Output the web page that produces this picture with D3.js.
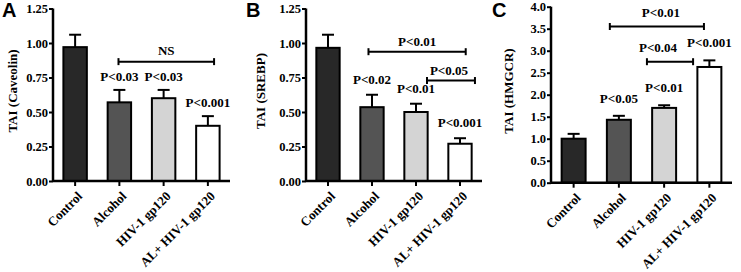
<!DOCTYPE html>
<html>
<head>
<meta charset="utf-8">
<script src="https://cdn.jsdelivr.net/npm/d3@7"></script>
<style>
  html, body { margin: 0; padding: 0; background: #fff; }
  svg { display: block; }
  text { font-family: "Liberation Serif", "Times New Roman", serif; font-weight: bold; fill: #000; }
  .panel-letter { font-family: "Liberation Sans", Arial, sans-serif; font-size: 20px; }
</style>
</head>
<body>
<div id="dataViz"></div>
<script>
const width = 741;
const height = 272;
const fontSize = "13px";
const tickFont = "12.5px";

// Data
const categories = ["Control", "Alcohol", "HIV-1 gp120", "AL+ HIV-1 gp120"];
const barColours = ["#282828", "#545454", "#d4d4d4", "#ffffff"];

const caveolinMeans = [0.97, 0.57, 0.60, 0.40];
const caveolinErrors = [0.09, 0.09, 0.06, 0.07];
const caveolinP = ["", "P<0.03", "P<0.03", "P<0.001"];

const srebpMeans = [0.965, 0.535, 0.50, 0.27];
const srebpErrors = [0.095, 0.09, 0.06, 0.04];
const srebpP = ["", "P<0.02", "P<0.01", "P<0.001"];

const hmgcrMeans = [1.0, 1.43, 1.70, 2.63];
const hmgcrErrors = [0.11, 0.09, 0.06, 0.15];
const hmgcrP = ["", "P<0.05", "P<0.01", "P<0.001"];

const ticks125 = [0, 0.25, 0.5, 0.75, 1.0, 1.25];
const ticks4 = [0, 0.5, 1.0, 1.5, 2.0, 2.5, 3.0, 3.5, 4.0];

// brackets: from / to in category index units, y in data units
const caveolinBrackets = [{ from: 0.98, to: 3.14, y: 0.865, label: "NS", dx: 0 }];
const srebpBrackets = [
  { from: 0.92, to: 3.13, y: 0.937, label: "P<0.01", dx: 0 },
  { from: 2.25, to: 3.34, y: 0.728, label: "P<0.05", dx: -2 }
];
const hmgcrBrackets = [
  { from: 0.80, to: 2.88, y: 3.55, label: "P<0.01", dx: 4 },
  { from: 1.62, to: 2.64, y: 2.75, label: "P<0.04", dx: -12 }
];

const svg = d3.select("#dataViz").append("svg")
  .attr("width", width)
  .attr("height", height);

const panels = [
  {
    letter: "A", letterX: 2, title: "TAI (Caveolin)", titleX: 17,
    left: 53, right: 230, bottom: 181, top: 8.5, max: 1.25,
    ticks: ticks125, fmt: ".2f",
    means: caveolinMeans, errors: caveolinErrors, pvals: caveolinP, pGap: 9,
    brackets: caveolinBrackets, bracketGap: 7
  },
  {
    letter: "B", letterX: 246, title: "TAI (SREBP)", titleX: 265,
    left: 306, right: 482, bottom: 181, top: 8.5, max: 1.25,
    ticks: ticks125, fmt: ".2f",
    means: srebpMeans, errors: srebpErrors, pvals: srebpP, pGap: 11,
    brackets: srebpBrackets, bracketGap: 6
  },
  {
    letter: "C", letterX: 492, title: "TAI (HMGCR)", titleX: 513,
    left: 551, right: 732, bottom: 182.7, top: 6.7, max: 4.0,
    ticks: ticks4, fmt: ".1f",
    means: hmgcrMeans, errors: hmgcrErrors, pvals: hmgcrP, pGap: 13,
    brackets: hmgcrBrackets, bracketGap: 10
  }
];

panels.forEach(p => {
  const g = svg.append("g");

  const xScale = d3.scaleBand()
    .domain(categories)
    .range([p.left, p.right])
    .paddingInner(0.47)
    .paddingOuter(0.235);

  const yScale = d3.scaleLinear()
    .domain([0, p.max])
    .range([p.bottom, p.top]);

  const centre = d => xScale(d) + xScale.bandwidth() / 2;
  const idxScale = d3.scaleLinear()
    .domain([0, categories.length - 1])
    .range([centre(categories[0]), centre(categories[categories.length - 1])]);

  const rows = categories.map((c, i) => ({
    cat: c, mean: p.means[i], err: p.errors[i], p: p.pvals[i], colour: barColours[i]
  }));

  // Error bars (drawn first, bar covers the lower half)
  const eb = g.selectAll(".err").data(rows).enter().append("g").attr("class", "err");
  eb.append("line")
    .attr("x1", d => centre(d.cat)).attr("x2", d => centre(d.cat))
    .attr("y1", d => yScale(d.mean)).attr("y2", d => yScale(d.mean + d.err))
    .attr("stroke", "#000").attr("stroke-width", 2);
  eb.append("line")
    .attr("x1", d => centre(d.cat) - 6).attr("x2", d => centre(d.cat) + 6)
    .attr("y1", d => yScale(d.mean + d.err)).attr("y2", d => yScale(d.mean + d.err))
    .attr("stroke", "#000").attr("stroke-width", 2);

  // Bars
  g.selectAll(".bar").data(rows).enter().append("rect")
    .attr("class", "bar")
    .attr("x", d => xScale(d.cat))
    .attr("y", d => yScale(d.mean))
    .attr("width", xScale.bandwidth())
    .attr("height", d => yScale(0) - yScale(d.mean))
    .attr("fill", d => d.colour)
    .attr("stroke", "#000")
    .attr("stroke-width", 2);

  // P values above bars
  g.selectAll(".pval").data(rows.filter(d => d.p)).enter().append("text")
    .attr("class", "pval")
    .attr("x", d => centre(d.cat))
    .attr("y", d => yScale(d.mean + d.err) - p.pGap)
    .attr("text-anchor", "middle")
    .style("font-size", fontSize)
    .text(d => d.p);

  // Brackets
  const br = g.selectAll(".bracket").data(p.brackets).enter().append("g").attr("class", "bracket");
  br.append("line")
    .attr("x1", d => idxScale(d.from)).attr("x2", d => idxScale(d.to))
    .attr("y1", d => yScale(d.y)).attr("y2", d => yScale(d.y))
    .attr("stroke", "#000").attr("stroke-width", 2);
  ["from", "to"].forEach(k => {
    br.append("line")
      .attr("x1", d => idxScale(d[k])).attr("x2", d => idxScale(d[k]))
      .attr("y1", d => yScale(d.y) - 3.5).attr("y2", d => yScale(d.y) + 3.5)
      .attr("stroke", "#000").attr("stroke-width", 2);
  });
  br.append("text")
    .attr("x", d => (idxScale(d.from) + idxScale(d.to)) / 2 + d.dx)
    .attr("y", d => yScale(d.y) - p.bracketGap)
    .attr("text-anchor", "middle")
    .style("font-size", fontSize)
    .text(d => d.label);

  // Axes
  const yAxis = d3.axisLeft(yScale)
    .tickValues(p.ticks)
    .tickFormat(d3.format(p.fmt))
    .tickSize(4)
    .tickPadding(1);

  const ya = g.append("g")
    .attr("transform", `translate(${p.left}, 0)`)
    .call(yAxis);
  ya.select(".domain").attr("stroke-width", 2.5).attr("d", `M0,${p.bottom}V${p.top}`);
  ya.selectAll(".tick line").attr("stroke-width", 2);
  ya.selectAll("text")
    .style("font-family", "'Liberation Serif', serif")
    .style("font-weight", "bold")
    .style("font-size", tickFont);

  const xAxis = d3.axisBottom(xScale).tickSize(5).tickFormat("");
  const xa = g.append("g")
    .attr("transform", `translate(0, ${p.bottom})`)
    .call(xAxis);
  xa.select(".domain").attr("stroke-width", 2.5).attr("d", `M${p.left},0H${p.right}`);
  xa.selectAll(".tick line").attr("stroke-width", 2);

  // Rotated category labels
  g.selectAll(".xlab").data(categories).enter().append("text")
    .attr("class", "xlab")
    .attr("transform", d => `translate(${centre(d) + 8}, ${p.bottom + 16}) rotate(-45)`)
    .attr("text-anchor", "end")
    .style("font-size", fontSize)
    .text(d => d);

  // Axis title
  g.append("text")
    .attr("transform", `translate(${p.titleX}, 91) rotate(-90)`)
    .attr("text-anchor", "middle")
    .style("font-size", fontSize)
    .text(p.title);

  // Panel letter
  g.append("text")
    .attr("class", "panel-letter")
    .attr("x", p.letterX)
    .attr("y", 17)
    .text(p.letter);
});
</script>
</body>
</html>
